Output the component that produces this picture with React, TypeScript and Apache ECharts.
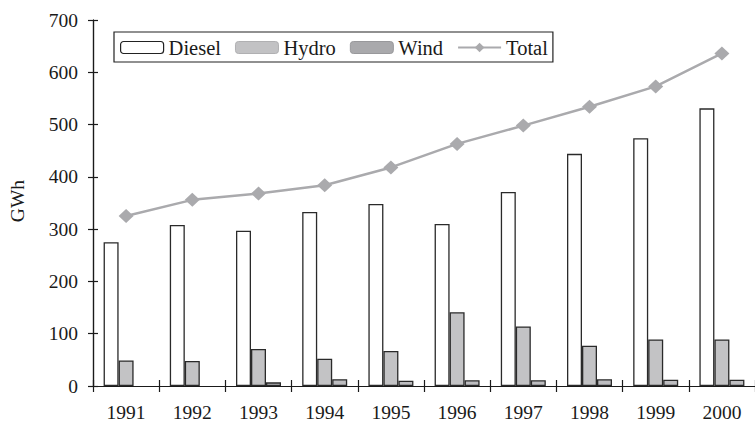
import React, { useEffect, useRef } from "react";
import * as echarts from "echarts";

const years = ["1991", "1992", "1993", "1994", "1995", "1996", "1997", "1998", "1999", "2000"];
const diesel = [275, 308, 297, 333, 348, 310, 371, 444, 474, 531];
const hydro = [49, 48, 71, 52, 67, 141, 114, 77, 89, 89];
const wind = [0, 0, 7, 13, 10, 11, 11, 13, 12, 12];
const total = [325, 356, 368, 384, 418, 463, 498, 534, 573, 636];

const FONT = "Liberation Serif";
const FS = 19.5;
const LFS = 20.5;
const INK = "#1a1a1a";

const noZero = (arr: number[]) => arr.map((v) => (v === 0 ? null : v));

export default function App() {
  const ref = useRef<HTMLDivElement>(null);
  useEffect(() => {
    if (!ref.current) return;
    const chart = echarts.init(ref.current, null, { renderer: "svg" });
    const yCommon = {
      type: "value" as const,
      min: 0,
      max: 700,
      interval: 100,
      splitLine: { show: false },
      axisLine: { show: true, lineStyle: { color: INK, width: 1.2 } },
    };
    const xCommon = {
      type: "category" as const,
      data: years,
      boundaryGap: true,
      axisLine: { show: true, lineStyle: { color: INK, width: 1.2 } },
    };
    chart.setOption({
      animation: false,
      textStyle: { fontFamily: FONT },
      grid: { left: 93, right: -6, top: 20, bottom: 34 },
      legend: {
        left: 114,
        top: 32,
        orient: "horizontal",
        borderColor: "#222",
        borderWidth: 1.2,
        padding: [5, 5, 4, 6],
        itemGap: 14,
        itemWidth: 43,
        itemHeight: 12,
        textStyle: { fontFamily: FONT, fontSize: LFS, color: INK },
        data: [
          { name: "Diesel", itemStyle: { color: "#ffffff", borderColor: "#222", borderWidth: 1.2 } },
          { name: "Hydro", itemStyle: { color: "#c2c2c4", borderColor: "#b0b0b2", borderWidth: 1 } },
          { name: "Wind", itemStyle: { color: "#a9a9ac", borderColor: "#98989b", borderWidth: 1 } },
          { name: "Total" },
        ],
      },
      xAxis: [
        {
          ...xCommon,
          axisTick: { show: true, length: 6, lineStyle: { color: INK, width: 1.2 } },
          axisLabel: { fontFamily: FONT, fontSize: FS, color: INK, margin: 16 },
        },
        {
          ...xCommon,
          position: "bottom",
          axisTick: { show: true, inside: true, length: 6, lineStyle: { color: INK, width: 1.2 } },
          axisLabel: { show: false },
        },
      ],
      yAxis: [
        {
          ...yCommon,
          axisTick: { show: true, length: 5, lineStyle: { color: INK, width: 1.2 } },
          axisLabel: { fontFamily: FONT, fontSize: FS, color: INK, margin: 15 },
        },
        {
          ...yCommon,
          position: "left",
          axisTick: { show: true, inside: true, length: 5, lineStyle: { color: INK, width: 1.2 } },
          axisLabel: { show: false },
        },
      ],
      graphic: [
        {
          type: "text",
          x: 17.5,
          y: 201,
          rotation: Math.PI / 2,
          style: {
            text: "GWh",
            fontFamily: FONT,
            fontSize: FS,
            fill: INK,
            align: "center",
            verticalAlign: "middle",
          },
        },
      ],
      series: [
        {
          name: "Diesel",
          type: "bar",
          data: noZero(diesel),
          barWidth: 15,
          barGap: "0%",
          itemStyle: { color: "#ffffff", borderColor: "#2a2a2a", borderWidth: 1.3 },
        },
        {
          name: "Hydro",
          type: "bar",
          data: noZero(hydro),
          barWidth: 15,
          barGap: "0%",
          itemStyle: { color: "#c3c3c5", borderColor: "#2a2a2a", borderWidth: 1.3 },
        },
        {
          name: "Wind",
          type: "bar",
          data: noZero(wind),
          barWidth: 15,
          barGap: "0%",
          itemStyle: { color: "#bdbdc0", borderColor: "#2a2a2a", borderWidth: 1.3 },
        },
        {
          name: "Total",
          type: "line",
          data: total,
          symbol: "diamond",
          symbolSize: [15, 14],
          z: 5,
          lineStyle: { color: "#aaaaad", width: 2.5 },
          itemStyle: { color: "#aaaaad" },
        },
      ],
    });
    return () => chart.dispose();
  }, []);
  return <div ref={ref} style={{ width: 755, height: 422, position: "absolute", left: 0, top: 0, background: "#fff" }} />;
}
